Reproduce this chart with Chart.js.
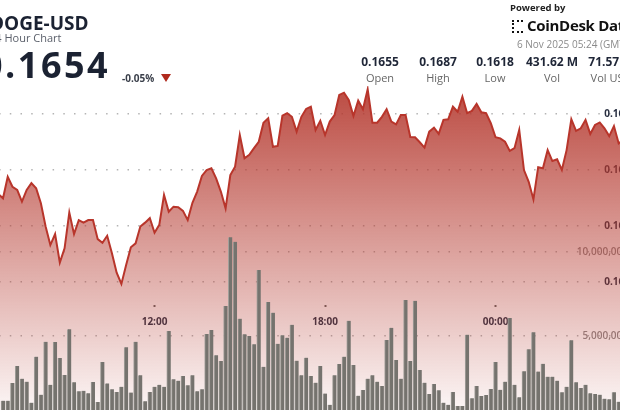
<!DOCTYPE html>
<html>
<head>
<meta charset="utf-8">
<script src="https://cdn.jsdelivr.net/npm/chart.js@4.4.1/dist/chart.umd.min.js"></script>
<style>
  html, body { margin: 0; padding: 0; width: 620px; height: 410px; overflow: hidden; background: #fff; }
  body { position: relative; font-family: "Open Sans", "Noto Sans", sans-serif; }
  .abs { position: absolute; white-space: nowrap; }
  #chartBox { position: absolute; left: -33px; top: 0; width: 682px; height: 430px; }
  #title { left: -10px; top: 10px; font-size: 19px; font-weight: 700; color: #1b2232; }
  #sub { left: -11px; top: 30px; font-size: 11px; color: #5a5f6a; }
  #price { left: -18px; top: 45px; font-size: 36px; font-weight: 700; color: #1b2232; line-height: 40px; letter-spacing: 2.5px; }
  #chg { left: 122px; top: 71px; font-size: 10px; font-weight: 700; color: #3a3f4a; }
  #tri { left: 161px; top: 74px; width: 0; height: 0; border-left: 5px solid transparent; border-right: 5px solid transparent; border-top: 8px solid #b02a1d; }
  #powered { left: 510px; top: 1px; font-size: 9.5px; font-weight: 700; color: #222; }
  #logo { left: 512px; top: 20px; width: 9px; height: 9px; border: 2px dotted #111; border-right: none; }
  #brand { left: 527px; top: 15px; font-size: 15px; font-weight: 700; color: #111; letter-spacing: -0.3px; }
  #date { left: 517px; top: 37px; font-size: 10px; color: #8a8a8a; }
  .stat { position: absolute; top: 54px; width: 70px; margin-left: -35px; text-align: center; }
  .stat .v { font-size: 12px; font-weight: 700; color: #1f2637; line-height: 16px; }
  .stat .l { font-size: 11px; color: #666; line-height: 16px; }
</style>
</head>
<body>
<div id="chartBox"><canvas id="priceChart" width="682" height="430"></canvas></div>

<div class="abs" id="title">DOGE-USD</div>
<div class="abs" id="sub">24 Hour Chart</div>
<div class="abs" id="price">0.1654</div>
<div class="abs" id="chg">-0.05%</div>
<div class="abs" id="tri"></div>

<div class="abs" id="powered">Powered by</div>
<div class="abs" id="logo"></div>
<div class="abs" id="brand">CoinDesk Data</div>
<div class="abs" id="date">6 Nov 2025 05:24 (GMT)</div>
<div id="stats"></div>

<script>
// 10 minute candles, minutes counted from 00:00 on 5 Nov
const chartStartMinute = 324;   // 05:24
const chartEndMinute = 1764;    // 05:24 next day
const volumeStartMinute = 400;  // 06:40
const priceStartMinute = 390;
const stepMinutes = 10;

// close price per 10 minutes
const closes = [
  0.16514, 0.16499, 0.16576, 0.16540, 0.16529, 0.16487, 0.16529, 0.16553, 0.16535, 0.16481,
  0.16398, 0.16332, 0.16371, 0.16269, 0.16320, 0.16448, 0.16371, 0.16421, 0.16412, 0.16421,
  0.16421, 0.16353, 0.16340, 0.16365, 0.16303, 0.16233, 0.16193, 0.16261, 0.16324, 0.16338,
  0.16398, 0.16412, 0.16428, 0.16376, 0.16404, 0.16511, 0.16451, 0.16469, 0.16467, 0.16454,
  0.16421, 0.16483, 0.16523, 0.16579, 0.16600, 0.16606, 0.16570, 0.16523, 0.16463, 0.16582,
  0.16612, 0.16725, 0.16642, 0.16654, 0.16678, 0.16701, 0.16769, 0.16785, 0.16683, 0.16686,
  0.16794, 0.16803, 0.16790, 0.16737, 0.16790, 0.16818, 0.16826, 0.16743, 0.16776, 0.16725,
  0.16773, 0.16796, 0.16868, 0.16876, 0.16850, 0.16793, 0.16848, 0.16817, 0.16888, 0.16769,
  0.16769, 0.16790, 0.16817, 0.16773, 0.16763, 0.16796, 0.16796, 0.16718, 0.16717, 0.16699,
  0.16680, 0.16737, 0.16751, 0.16729, 0.16779, 0.16781, 0.16826, 0.16808, 0.16862, 0.16803,
  0.16811, 0.16836, 0.16806, 0.16803, 0.16767, 0.16717, 0.16713, 0.16701, 0.16668, 0.16678,
  0.16743, 0.16600, 0.16558, 0.16495, 0.16610, 0.16606, 0.16671, 0.16632, 0.16638, 0.16600,
  0.16671, 0.16781, 0.16740, 0.16749, 0.16779, 0.16729, 0.16761, 0.16770, 0.16749, 0.16721,
  0.16757, 0.16695, 0.16707
];

// volume per 10 minutes, millions of DOGE
const volumes = [
  1.15, 1.15, 2.20, 3.21, 2.46, 2.28, 1.03, 3.77, 1.51, 4.66,
  2.10, 4.64, 3.69, 2.68, 5.40, 2.24, 1.71, 1.74, 1.59, 2.26,
  1.07, 3.45, 2.18, 1.83, 1.67, 1.98, 4.33, 1.63, 4.66, 2.66,
  1.11, 1.67, 1.98, 2.10, 1.98, 5.30, 2.42, 2.34, 2.62, 2.07,
  2.66, 1.71, 1.83, 5.12, 5.36, 3.85, 3.51, 6.79, 10.88, 10.61,
  6.03, 5.10, 5.00, 4.51, 8.93, 3.17, 7.02, 6.39, 4.54, 5.04,
  4.90, 5.67, 3.53, 2.66, 3.71, 2.62, 2.22, 3.21, 1.57, 0.91,
  2.66, 3.33, 3.77, 5.91, 3.27, 1.45, 1.79, 2.46, 2.66, 2.28,
  2.02, 4.76, 5.49, 3.57, 2.46, 7.14, 3.51, 7.10, 2.98, 2.22,
  1.55, 2.14, 1.77, 1.03, 0.91, 1.67, 0.83, 0.83, 5.08, 1.29,
  2.02, 1.43, 1.49, 1.85, 3.45, 1.80, 2.28, 6.07, 2.10, 1.35,
  2.90, 4.21, 5.22, 2.88, 3.35, 2.58, 2.58, 2.34, 1.65, 1.98,
  4.74, 2.24, 1.90, 2.10, 1.59, 1.55, 1.51, 1.27, 1.23, 1.65,
  1.09
];

const timeTicks = [720, 1080, 1440];
const timeLabels = ["12:00", "18:00", "00:00"];
const priceTicks = [0.162, 0.164, 0.166, 0.168];
const volumeTicks = [5, 10];

const statValues = ["0.1655", "0.1687", "0.1618", "431.62 M", "71.57 M"];
const statLabels = ["Open", "High", "Low", "Vol", "Vol USD"];
const statCenters = [380, 438, 495, 552, 611];

// header stats
const statsDiv = document.getElementById("stats");
statValues.forEach((v, i) => {
  const el = document.createElement("div");
  el.className = "stat";
  el.style.left = statCenters[i] + "px";
  el.innerHTML = `<div class="v">${v}</div><div class="l">${statLabels[i]}</div>`;
  statsDiv.appendChild(el);
});

const pricePoints = closes.map((p, i) => ({ x: priceStartMinute + i * stepMinutes, y: p }));
const volumePoints = volumes.map((v, i) => ({ x: volumeStartMinute + i * stepMinutes, y: v }));

const dotted = [1.5, 9.2];
const gridColor = "rgba(140,140,140,0.65)";
// scales take no room, the plot fills the whole canvas
const noSize = (scale) => { if (scale.isHorizontal()) scale.height = 0; else scale.width = 0; };

const chart = new Chart(document.getElementById("priceChart"), {
  type: "bar",
  data: {
    datasets: [
      {
        type: "bar",
        data: volumePoints,
        yAxisID: "v",
        backgroundColor: "#75736e",
        borderColor: "#a3a19c",
        borderWidth: { left: 1, right: 0, top: 0, bottom: 0 },
        barThickness: 4,
        order: 0,
      },
      {
        type: "line",
        data: pricePoints,
        yAxisID: "y",
        borderColor: "#b8352b",
        borderWidth: 2,
        pointRadius: 0,
        tension: 0,
        fill: "start",
        backgroundColor: (c) => {
          const area = c.chart.chartArea;
          if (!area) return "rgba(180,55,45,0.4)";
          const g = c.chart.ctx.createLinearGradient(0, area.top, 0, area.bottom);
          g.addColorStop(0, "rgba(180,55,45,0.9)");
          g.addColorStop(1, "rgba(180,55,45,0.02)");
          return g;
        },
        order: 1,
      },
    ],
  },
  options: {
    responsive: false,
    animation: false,
    devicePixelRatio: 1,
    layout: { padding: { top: 86, bottom: 10, left: 0, right: 0 } },
    plugins: { legend: { display: false }, tooltip: { enabled: false } },
    scales: {
      x: {
        type: "linear",
        offset: false,
        min: chartStartMinute,
        max: chartEndMinute,
        position: { v: 6.85 },
        afterFit: noSize,
        afterBuildTicks: (s) => { s.ticks = timeTicks.map((v) => ({ value: v })); },
        grid: { offset: false, drawOnChartArea: false, drawTicks: true, tickLength: 2, tickColor: "#666", tickWidth: 2 },
        border: { display: false },
        ticks: {
          autoSkip: false,
          maxRotation: 0,
          padding: 9,
          color: "#2b3245",
          font: { family: "Open Sans", size: 10, weight: "bold" },
          callback: (v) => timeLabels[timeTicks.indexOf(v)],
        },
      },
      y: {
        position: "right",
        min: 0.1570714,
        max: 0.169,
        afterFit: noSize,
        afterBuildTicks: (s) => { s.ticks = priceTicks.map((v) => ({ value: v })); },
        grid: { color: gridColor, lineWidth: 1.5, drawTicks: false, borderDash: dotted },
        border: { display: false, dash: dotted },
        ticks: {
          mirror: true,
          padding: -19,
          color: "#2a3042",
          font: { family: "Open Sans", size: 10, weight: "bold" },
          callback: (v) => v.toFixed(3),
        },
      },
      v: {
        position: "right",
        min: 0,
        max: 19.881,
        afterFit: noSize,
        afterBuildTicks: (s) => { s.ticks = volumeTicks.map((v) => ({ value: v })); },
        grid: { color: gridColor, lineWidth: 1.5, drawTicks: false, borderDash: dotted },
        border: { display: false, dash: dotted },
        ticks: {
          mirror: true,
          padding: -21,
          color: "#8f8a8a",
          font: { family: "Open Sans", size: 10, weight: "600" },
          callback: (v) => (v * 1000000).toLocaleString("en-US"),
        },
      },
    },
  },
});
</script>
</body>
</html>
